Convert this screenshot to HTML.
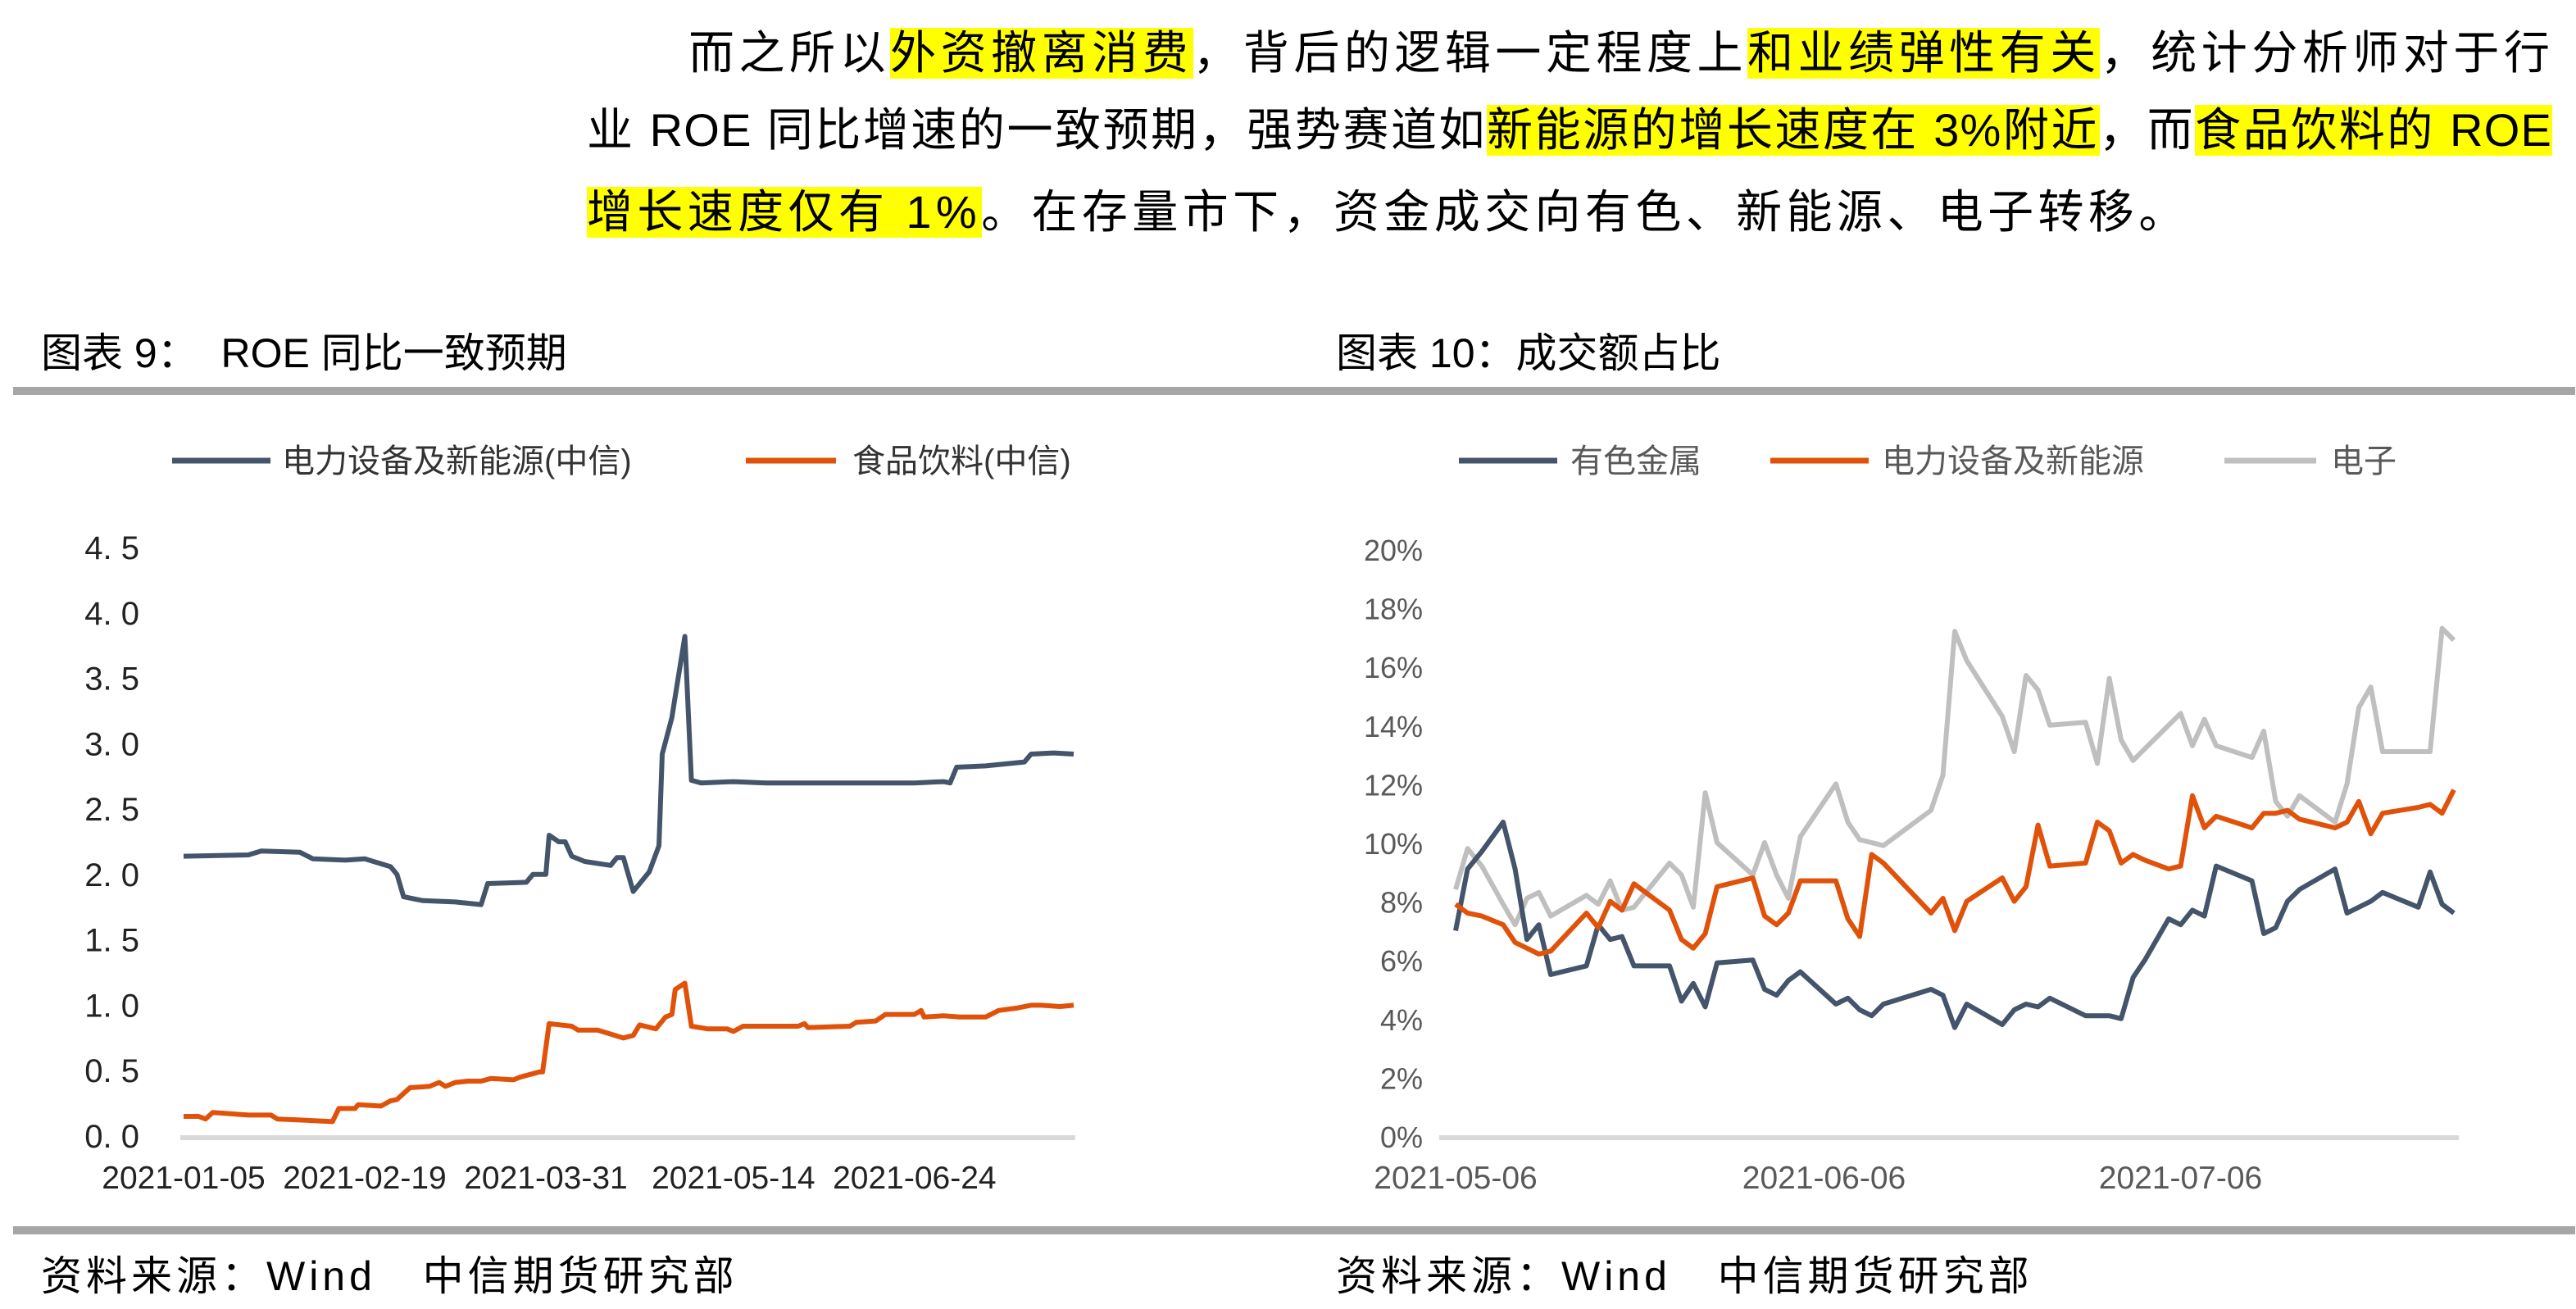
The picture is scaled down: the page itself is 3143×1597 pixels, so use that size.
<!DOCTYPE html>
<html><head><meta charset="utf-8">
<style>
html,body{margin:0;padding:0;background:#fff;}
body{width:3143px;height:1597px;overflow:hidden;}
#root{position:absolute;left:0;top:0;width:1571.5px;height:798.5px;transform:scale(2);transform-origin:0 0;font-family:"Liberation Sans","Noto Sans CJK SC",sans-serif;color:#000;}
.pl{position:absolute;font-size:28px;line-height:44px;white-space:nowrap;letter-spacing:1.5px;}
.hl{background:#ffff00;}
.just{text-align:justify;text-align-last:justify;}
.ttl{position:absolute;font-size:25px;white-space:nowrap;}
.rule{position:absolute;left:8px;width:1563px;height:5px;background:#a6a6a6;}
svg{position:absolute;left:0;top:0;}
</style></head><body>
<div id="root">
<div class="pl just" style="left:420px;top:11px;width:1137px">而之所以<span class="hl">外资撤离消费</span>，背后的逻辑一定程度上<span class="hl">和业绩弹性有关</span>，统计分析师对于行</div>
<div class="pl just" style="left:358px;top:58px;width:1199px;letter-spacing:0.6px">业 ROE 同比增速的一致预期，强势赛道如<span class="hl">新能源的增长速度在 3%附近</span>，而<span class="hl">食品饮料的 ROE</span></div>
<div class="pl" style="left:358px;top:108px;letter-spacing:2.7px"><span class="hl">增长速度仅有 1%</span>。在存量市下，资金成交向有色、新能源、电子转移。</div>
<div class="ttl" style="left:25px;top:196px">图表 9：&nbsp; ROE 同比一致预期</div>
<div class="ttl" style="left:815px;top:196px">图表 10：成交额占比</div>
<div class="rule" style="top:236px"></div>
<div class="rule" style="top:748px"></div>
<div class="ttl" style="left:25px;top:759px;letter-spacing:2.5px">资料来源：Wind&nbsp;&nbsp; 中信期货研究部</div>
<div class="ttl" style="left:815px;top:759px;letter-spacing:2.5px">资料来源：Wind&nbsp;&nbsp; 中信期货研究部</div>
<svg id="chart" width="1571.5" height="798.5" viewBox="0 0 1571.5 798.5"></svg>
</div>
<script>
// Chart 9 data
const lTickVals = [0,0.5,1,1.5,2,2.5,3,3.5,4,4.5];
const lTickLabels = ["0. 0","0. 5","1. 0","1. 5","2. 0","2. 5","3. 0","3. 5","4. 0","4. 5"];
const lXLabels = ["2021-01-05","2021-02-19","2021-03-31","2021-05-14","2021-06-24"];
const lXLabelIdx = [0,28,56,85,113];
const elecIdx = [0,10,12,18,20,25,28,32,33,34,37,42,46,47,53,54,56,56.5,58,59,60,62,66,67,68,69.5,72,73.5,74,75.5,76,77.5,78.5,80,85,90,96,102,113,117.5,118.5,119.5,124,130,131,134.5,137.6];
const elecVal = [2.14,2.15,2.18,2.17,2.12,2.11,2.12,2.06,2.0,1.83,1.8,1.79,1.77,1.93,1.94,2.0,2.0,2.3,2.25,2.25,2.14,2.1,2.07,2.13,2.13,1.87,2.02,2.22,2.92,3.2,3.36,3.82,2.72,2.7,2.71,2.7,2.7,2.7,2.7,2.71,2.7,2.82,2.83,2.86,2.92,2.93,2.92];
const foodIdx = [0,2.3,3.4,4.5,10,13.5,14.5,19,23,24,26.5,27,30.5,32,33,35,38,39.5,40.5,42,44,46,47.5,51,52,55,55.5,56.5,60,61,64,68,69.5,70.5,73,74.5,75.5,76,77.5,78.5,81,84,85,86.5,95,96,96.5,103,104,107,108.5,113,114,114.5,117.5,120,124,126,129,131,132.5,135.5,137.6];
const foodVal = [0.15,0.15,0.13,0.18,0.16,0.16,0.13,0.12,0.11,0.21,0.21,0.24,0.23,0.27,0.28,0.37,0.38,0.41,0.38,0.41,0.42,0.42,0.44,0.43,0.45,0.49,0.49,0.86,0.84,0.81,0.81,0.75,0.77,0.85,0.82,0.91,0.93,1.12,1.17,0.84,0.82,0.82,0.8,0.84,0.84,0.86,0.83,0.84,0.87,0.88,0.93,0.93,0.96,0.91,0.92,0.91,0.91,0.96,0.98,1.0,1.0,0.99,1.0];
// Chart 10 data
const rTickVals = [0,2,4,6,8,10,12,14,16,18,20];
const rXLabels = ["2021-05-06","2021-06-06","2021-07-06"];
const rXLabelDay = [0,31,61];
const dayIdx = [0,1,2.2,4,5,6,7,8,11,12,13,14,15,18,19,20,21,22,25,26,27,28,29,32,33,34,35,36,40,41,42,43,46,47,48,49,50,53,54,55,56,57,58,60,61,62,63,64,67,68,69,70,71,74,75,76,77,78,81,82,83,84];
const metalVal = [7.0,9.1,9.7,10.7,9.1,6.7,7.2,5.5,5.8,7.2,6.7,6.8,5.8,5.8,4.6,5.2,4.4,5.9,6.0,5.0,4.8,5.3,5.6,4.5,4.7,4.3,4.1,4.5,5.0,4.8,3.7,4.5,3.8,4.3,4.5,4.4,4.7,4.1,4.1,4.1,4.0,5.4,6.0,7.4,7.2,7.7,7.5,9.2,8.7,6.9,7.1,8.0,8.4,9.1,7.6,7.8,8.0,8.3,7.8,9.0,7.9,7.6];
const newEnergyVal = [7.9,7.6,7.5,7.2,6.6,6.4,6.2,6.3,7.6,7.1,8.0,7.7,8.6,7.7,6.7,6.4,6.9,8.5,8.8,7.5,7.2,7.6,8.7,8.7,7.4,6.8,9.6,9.3,7.6,8.1,7.0,8.0,8.8,8.0,8.5,10.6,9.2,9.3,10.7,10.4,9.3,9.6,9.4,9.1,9.2,11.6,10.5,10.9,10.5,11.0,11.0,11.1,10.8,10.5,10.7,11.4,10.3,11.0,11.2,11.3,11.0,11.8];
const elecTradeVal = [8.4,9.8,9.2,7.9,7.2,8.1,8.3,7.5,8.2,7.9,8.7,7.7,7.8,9.3,8.9,7.8,11.7,10.0,8.9,10.0,8.9,8.1,10.2,12.0,10.7,10.1,10.0,9.9,11.1,12.3,17.2,16.2,14.3,13.1,15.7,15.2,14.0,14.1,12.7,15.6,13.5,12.8,13.2,14.0,14.4,13.3,14.2,13.3,12.9,13.8,11.4,10.9,11.6,10.7,12.0,14.6,15.3,13.1,13.1,13.1,17.3,16.9];
const NS='http://www.w3.org/2000/svg';
const svg=document.getElementById('chart');
function mk(tag,attrs,parent){const e=document.createElementNS(NS,tag);for(const k in attrs)e.setAttribute(k,attrs[k]);(parent||svg).appendChild(e);return e;}
const lx=i=>112+i/137.6*543;
const ly=v=>693-v/4.5*359;
const rx=d=>888+d/84*609;
const ry=v=>693-v/20*358;
function legend(x1,x2,y,color,label,tx,fill,name){
  const g=mk('g',{});
  
  
  mk('line',{x1:x1,x2:x2,y1:y,y2:y,stroke:color,'stroke-width':3.5},g);
  const t=mk('text',{x:tx,y:y+7,'font-size':20,fill:fill,'font-family':'"Liberation Sans","Noto Sans CJK SC",sans-serif'},g);
  t.textContent=label;
}
legend(105,165,281,'#44546A','电力设备及新能源(中信)',172,'#333','legend-electrical-equipment');
legend(455,510,281,'#E0520A','食品饮料(中信)',520,'#333','legend-food-beverage');
legend(890,950,281,'#44546A','有色金属',958,'#595959','legend-nonferrous-metals');
legend(1080,1140,281,'#E0520A','电力设备及新能源',1148,'#595959','legend-new-energy');
legend(1357,1413,281,'#BFBFBF','电子',1422,'#595959','legend-electronics');
const b1=mk('line',{x1:110,x2:656,y1:694,y2:694,stroke:'#d9d9d9','stroke-width':3});


const b2=mk('line',{x1:878,x2:1500,y1:694,y2:694,stroke:'#d9d9d9','stroke-width':3});


lTickVals.forEach((v,i)=>{
  const t=mk('text',{x:85,y:ly(v)+7,'text-anchor':'end','font-size':20,fill:'#222','font-family':'"Liberation Sans",sans-serif'});
  
  
  t.textContent=lTickLabels[i];
});
lXLabels.forEach((s,i)=>{
  const t=mk('text',{x:lx(lXLabelIdx[i]),y:725,'text-anchor':'middle','font-size':19.5,fill:'#222','font-family':'"Liberation Sans",sans-serif'});
  
  
  t.textContent=s;
});
rTickVals.forEach(v=>{
  const t=mk('text',{x:868,y:ry(v)+7,'text-anchor':'end','font-size':18,fill:'#595959','font-family':'"Liberation Sans",sans-serif'});
  
  
  t.textContent=v+'%';
});
rXLabels.forEach((s,i)=>{
  const t=mk('text',{x:rx(rXLabelDay[i]),y:725,'text-anchor':'middle','font-size':19.5,fill:'#595959','font-family':'"Liberation Sans",sans-serif'});
  
  
  t.textContent=s;
});
function line(xs,vs,fx,fy,color,name){
  const n=Math.min(xs.length,vs.length);
  let d='';
  for(let i=0;i<n;i++)d+=(i?'L':'M')+fx(xs[i]).toFixed(1)+','+fy(vs[i]).toFixed(1);
  const p=mk('path',{d:d,fill:'none',stroke:color,'stroke-width':3,'stroke-linejoin':'round'});
  
  
}
line(elecIdx,elecVal,lx,ly,'#44546A','series-electrical-equipment');
line(foodIdx,foodVal,lx,ly,'#E0520A','series-food-beverage');
line(dayIdx,elecTradeVal,rx,ry,'#BFBFBF','series-electronics');
line(dayIdx,metalVal,rx,ry,'#44546A','series-nonferrous-metals');
line(dayIdx,newEnergyVal,rx,ry,'#E0520A','series-new-energy');
</script>
</body></html>
